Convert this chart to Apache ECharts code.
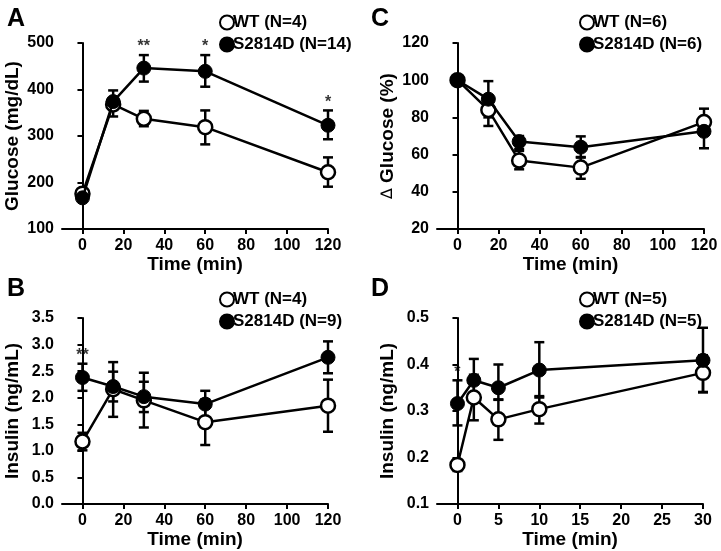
<!DOCTYPE html>
<html>
<head>
<meta charset="utf-8">
<script src="https://cdn.jsdelivr.net/npm/echarts@6/dist/echarts.min.js"></script>
<style>
html,body{margin:0;padding:0;background:#fff;}
#main{width:721px;height:551px;}
</style>
</head>
<body>
<div id="main"></div>
<script>
// ---------- Panel A: glucose (mg/dL) ----------
const timeA = [0, 15, 30, 60, 120];
const xTicksA = [0, 20, 40, 60, 80, 100, 120];
const glucWT   = [176, 368, 337, 319, 222];
const glucWTlo = [170, 356, 321, 282, 191];
const glucWThi = [182, 380, 354, 355, 254];
const glucS    = [167, 374, 446, 439, 323];
const glucSlo  = [161, 342, 417, 406, 293];
const glucShi  = [173, 398, 474, 474, 355];
const starsAIdx = [2, 3, 4];
const starsALab = ['**', '*', '*'];

// ---------- Panel C: delta glucose (%) ----------
const timeC = [0, 15, 30, 60, 120];
const dWT   = [100, 84, 56.8, 53, 77.5];
const dWTlo = [100, 75.4, 52.1, 47, 71];
const dWThi = [100, 91, 62, 58.7, 84.7];
const dS    = [100, 89.8, 67, 64, 72.5];
const dSlo  = [100, 80, 63, 58.4, 63.4];
const dShi  = [100, 99.5, 70, 69.8, 79.3];

// ---------- Panel B: insulin (ng/mL) ----------
const timeB = [0, 15, 30, 60, 120];
const insWT   = [1.175, 2.16, 1.95, 1.54, 1.85];
const insWTlo = [1.01, 1.93, 1.44, 1.11, 1.36];
const insWThi = [1.34, 2.49, 2.47, 1.97, 2.34];
const insS    = [2.38, 2.21, 2.02, 1.88, 2.76];
const insSlo  = [2.13, 1.64, 1.73, 1.63, 2.46];
const insShi  = [2.64, 2.67, 2.30, 2.13, 3.06];
const starsBIdx = [0];
const starsBLab = ['**'];

// ---------- Panel D: insulin (ng/mL), short time ----------
const timeD = [0, 2, 5, 10, 30];
const xTicksD = [0, 5, 10, 15, 20, 25, 30];
const insDWT   = [0.184, 0.329, 0.282, 0.304, 0.382];
const insDWTlo = [0.171, 0.28, 0.238, 0.273, 0.341];
const insDWThi = [0.195, 0.378, 0.324, 0.329, 0.42];
const insDS    = [0.316, 0.366, 0.35, 0.388, 0.409];
const insDSlo  = [0.269, 0.32, 0.325, 0.332, 0.34];
const insDShi  = [0.366, 0.412, 0.4, 0.448, 0.479];
const starsDIdx = [0];
const starsDLab = ['*'];

const FONT = "'Liberation Sans', Arial, sans-serif";
const chart = echarts.init(document.getElementById('main'));

function zip(x, y) { return x.map((v, i) => [v, y[i]]); }
function errData(x, lo, hi) { return x.map((v, i) => [v, lo[i], hi[i]]); }

function xAxisDef(gi, min, max, ticks) {
  return {
    type: 'value', gridIndex: gi, min: min, max: max,
    name: 'Time (min)', nameLocation: 'middle', nameGap: 23,
    nameTextStyle: { fontFamily: FONT, fontWeight: 'bold', fontSize: 19, color: '#000' },
    axisLine: { lineStyle: { color: '#000', width: 2 } },
    axisTick: { customValues: ticks, length: 5, lineStyle: { color: '#000', width: 2 } },
    axisLabel: { customValues: ticks, margin: 9, fontFamily: FONT, fontWeight: 'bold', fontSize: 16, color: '#000' },
    splitLine: { show: false }
  };
}
function yAxisDef(gi, min, max, interval, name, dec) {
  return {
    type: 'value', gridIndex: gi, min: min, max: max, interval: interval,
    name: name, nameLocation: 'middle', nameGap: 40,
    nameTextStyle: { fontFamily: FONT, fontWeight: 'bold', fontSize: 19, color: '#000',
      rich: { d: { fontFamily: 'DejaVu Sans', fontWeight: 'normal', fontSize: 16, color: '#000' } } },
    axisLine: { show: true, lineStyle: { color: '#000', width: 2 } },
    axisTick: { show: true, length: 5, lineStyle: { color: '#000', width: 2 } },
    axisLabel: { margin: 8, fontFamily: FONT, fontWeight: 'bold', fontSize: 16, color: '#000',
      formatter: v => dec ? v.toFixed(dec) : String(Math.round(v)) },
    splitLine: { show: false }
  };
}
function errSeries(gi, data) {
  return {
    type: 'custom', xAxisIndex: gi, yAxisIndex: gi, z: 1, silent: true,
    encode: { x: 0, y: [1, 2] },
    data: data,
    renderItem: function (params, api) {
      const x = api.value(0);
      const lo = api.coord([x, api.value(1)]);
      const hi = api.coord([x, api.value(2)]);
      const w = 5;
      const st = { stroke: '#000', lineWidth: 2.5 };
      return {
        type: 'group',
        children: [
          { type: 'line', shape: { x1: lo[0], y1: lo[1], x2: hi[0], y2: hi[1] }, style: st },
          { type: 'line', shape: { x1: lo[0] - w, y1: lo[1], x2: lo[0] + w, y2: lo[1] }, style: st },
          { type: 'line', shape: { x1: hi[0] - w, y1: hi[1], x2: hi[0] + w, y2: hi[1] }, style: st }
        ]
      };
    }
  };
}
function lineSeries(gi, name, data, open) {
  return {
    type: 'line', name: name, xAxisIndex: gi, yAxisIndex: gi, data: data,
    z: open ? 2 : 3, symbol: 'circle', symbolSize: 14, showSymbol: true,
    lineStyle: { color: '#000', width: 2.5 },
    itemStyle: open ? { color: '#fff', borderColor: '#000', borderWidth: 2.5 }
                    : { color: '#000', borderColor: '#000', borderWidth: 1 },
    emphasis: { disabled: true }, animation: false
  };
}
function starSeries(gi, x, hi, idx, labels) {
  return {
    type: 'scatter', xAxisIndex: gi, yAxisIndex: gi, symbolSize: 0, z: 4, silent: true,
    data: idx.map((k, i) => [x[k], hi[k], labels[i]]),
    label: { show: true, position: 'top', distance: 0, formatter: p => p.data[2],
      fontFamily: FONT, fontWeight: 'bold', fontSize: 16, color: '#000' }
  };
}
function legendDef(names, left, top) {
  return {
    data: names, orient: 'vertical', left: left, top: top, icon: 'circle',
    itemWidth: 14, itemHeight: 14, itemGap: 5, selectedMode: false,
    textStyle: { fontFamily: FONT, fontWeight: 'bold', fontSize: 17, color: '#000', padding: [0, 0, 0, -6] }
  };
}

const option = {
  backgroundColor: '#fff',
  animation: false,
  title: [
    { text: 'A', left: 2, top: 2, textStyle: { fontFamily: FONT, fontWeight: 'bold', fontSize: 25, color: '#000' } },
    { text: 'C', left: 366, top: 2, textStyle: { fontFamily: FONT, fontWeight: 'bold', fontSize: 25, color: '#000' } },
    { text: 'B', left: 2, top: 272, textStyle: { fontFamily: FONT, fontWeight: 'bold', fontSize: 25, color: '#000' } },
    { text: 'D', left: 366, top: 272, textStyle: { fontFamily: FONT, fontWeight: 'bold', fontSize: 25, color: '#000' } }
  ],
  legend: [
    legendDef(['WT (N=4)', 'S2814D (N=14)'], 214, 9),
    legendDef(['WT (N=6)', 'S2814D (N=6)'], 574, 9),
    legendDef(['WT (N=4)', 'S2814D (N=9)'], 214, 286),
    legendDef(['WT (N=5)', 'S2814D (N=5)'], 574, 286)
  ],
  grid: [
    { left: 62, top: 43, width: 266, height: 186 },
    { left: 437, top: 43, width: 267, height: 186 },
    { left: 62, top: 318, width: 266, height: 186 },
    { left: 437, top: 318, width: 266, height: 186 }
  ],
  xAxis: [
    xAxisDef(0, -10, 120, xTicksA),
    xAxisDef(1, -10, 120, xTicksA),
    xAxisDef(2, -10, 120, xTicksA),
    xAxisDef(3, -2.5, 30, xTicksD)
  ],
  yAxis: [
    yAxisDef(0, 100, 500, 100, 'Glucose (mg/dL)', 0),
    yAxisDef(1, 20, 120, 20, '{d|∆} Glucose (%)', 0),
    yAxisDef(2, 0, 3.5, 0.5, 'Insulin (ng/mL)', 1),
    yAxisDef(3, 0.1, 0.5, 0.1, 'Insulin (ng/mL)', 1)
  ],
  series: [
    errSeries(0, errData(timeA, glucWTlo, glucWThi)),
    errSeries(0, errData(timeA, glucSlo, glucShi)),
    lineSeries(0, 'WT (N=4)', zip(timeA, glucWT), true),
    lineSeries(0, 'S2814D (N=14)', zip(timeA, glucS), false),
    starSeries(0, timeA, glucShi, starsAIdx, starsALab),

    errSeries(1, errData(timeC, dWTlo, dWThi)),
    errSeries(1, errData(timeC, dSlo, dShi)),
    lineSeries(1, 'WT (N=6)', zip(timeC, dWT), true),
    lineSeries(1, 'S2814D (N=6)', zip(timeC, dS), false),

    errSeries(2, errData(timeB, insWTlo, insWThi)),
    errSeries(2, errData(timeB, insSlo, insShi)),
    lineSeries(2, 'WT (N=4)', zip(timeB, insWT), true),
    lineSeries(2, 'S2814D (N=9)', zip(timeB, insS), false),
    starSeries(2, timeB, insShi, starsBIdx, starsBLab),

    errSeries(3, errData(timeD, insDWTlo, insDWThi)),
    errSeries(3, errData(timeD, insDSlo, insDShi)),
    lineSeries(3, 'WT (N=5)', zip(timeD, insDWT), true),
    lineSeries(3, 'S2814D (N=5)', zip(timeD, insDS), false),
    starSeries(3, timeD, insDShi, starsDIdx, starsDLab)
  ]
};
chart.setOption(option);
</script>
</body>
</html>
